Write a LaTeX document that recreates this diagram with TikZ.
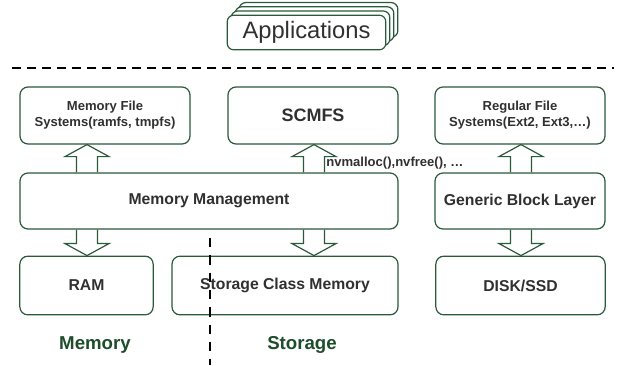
\documentclass[tikz,border=0pt]{standalone}
\usepackage{fontspec}
\setmainfont{Liberation Sans}
\usetikzlibrary{calc}
\definecolor{boxgreen}{HTML}{2A5A3A}
\definecolor{labelgreen}{HTML}{1E4D2B}
\definecolor{txtgrey}{HTML}{303030}
\tikzset{
  layer/.style={draw=boxgreen, line width=0.9pt, rounded corners=6pt, fill=white,
    text=txtgrey, align=center, inner sep=0pt, font=\bfseries\fontsize{11.8}{14}\selectfont},
  small/.style={font=\bfseries\fontsize{9.8}{12}\selectfont},
  hollow/.style={draw=boxgreen, line width=0.9pt, line join=miter},
  sep/.style={line width=1pt, dash pattern=on 6.75pt off 4.5pt}
}
% vertical hollow block arrow from #1 to #2
\newcommand\blockarrow[2]{%
  \draw[hollow] let \p1=(#1), \p2=(#2), \n1={ifthenelse(\y2>\y1,1,-1)} in
    (\x1-7.9pt,\y1) -- (\x1-7.9pt,\y2-\n1*9pt) -- (\x1-16.5pt,\y2-\n1*9pt) -- (\x2,\y2)
    -- (\x1+16.5pt,\y2-\n1*9pt) -- (\x1+7.9pt,\y2-\n1*9pt) -- (\x1+7.9pt,\y1);}
\begin{document}
\begin{tikzpicture}[x=0.75pt,y=-0.75pt]
  \useasboundingbox (0,0) rectangle (624,365);
  % applications stack
  \foreach \k in {3,2,1,0}
    \node[layer, font=\fontsize{17.8}{20}\selectfont, minimum width=119pt, minimum height=26pt,
      rounded corners=5pt] (app\k) at (306.5+4*\k,32.5-4.2*\k) {\ifnum\k=0 Applications\fi};
  \draw[sep] (12,68) -- (614,68);
  % file systems
  \node[layer, small, minimum width=127.5pt, minimum height=42.75pt] (mfs) at (105,115.5) {Memory File\\Systems(ramfs, tmpfs)};
  \node[layer, font=\bfseries\fontsize{13.5}{16}\selectfont, minimum width=127.5pt, minimum height=42.75pt] (scmfs) at (313,115.5) {SCMFS};
  \node[layer, small, minimum width=127.5pt, minimum height=42.75pt] (rfs) at (520,115.5) {Regular File\\Systems(Ext2, Ext3,\dots)};
  % middle layer
  \node[layer, minimum width=283.5pt, minimum height=42pt] (mm) at (209,201) {Memory Management};
  \node[layer, minimum width=127.5pt, minimum height=42pt] (gbl) at (520,201) {Generic Block Layer};
  % devices
  \node[layer, minimum width=100pt, minimum height=44pt] (ram) at (86.5,285.5) {RAM};
  \node[layer, minimum width=169.5pt, minimum height=44pt] (scm) at (285,285.5) {Storage Class Memory};
  \node[layer, minimum width=127pt, minimum height=44pt] (disk) at (520.5,285.5) {DISK/SSD};
  % arrow columns
  \coordinate (c1) at (87,0);
  \coordinate (c2) at (314,0);
  \coordinate (c3) at (521,0);
  \blockarrow{mm.north -| c1}{mfs.south -| c1}
  \blockarrow{mm.north -| c2}{scmfs.south -| c2}
  \blockarrow{gbl.north -| c3}{rfs.south -| c3}
  \blockarrow{mm.south -| c1}{ram.north -| c1}
  \blockarrow{mm.south -| c2}{scm.north -| c2}
  \blockarrow{gbl.south -| c3}{disk.north -| c3}
  \node[small, text=txtgrey, anchor=west, inner sep=0pt] (api) at (326,163) {nvmalloc(),nvfree(), \dots};
  % memory / storage split
  \draw[sep, dash pattern=on 7pt off 6pt] (210,238) -- (210,365);
  \node[font=\bfseries\fontsize{14}{17}\selectfont, text=labelgreen] (memlbl) at (95,345) {Memory};
  \node[font=\bfseries\fontsize{14}{17}\selectfont, text=labelgreen] (stolbl) at (302,345) {Storage};
\end{tikzpicture}
\end{document}
